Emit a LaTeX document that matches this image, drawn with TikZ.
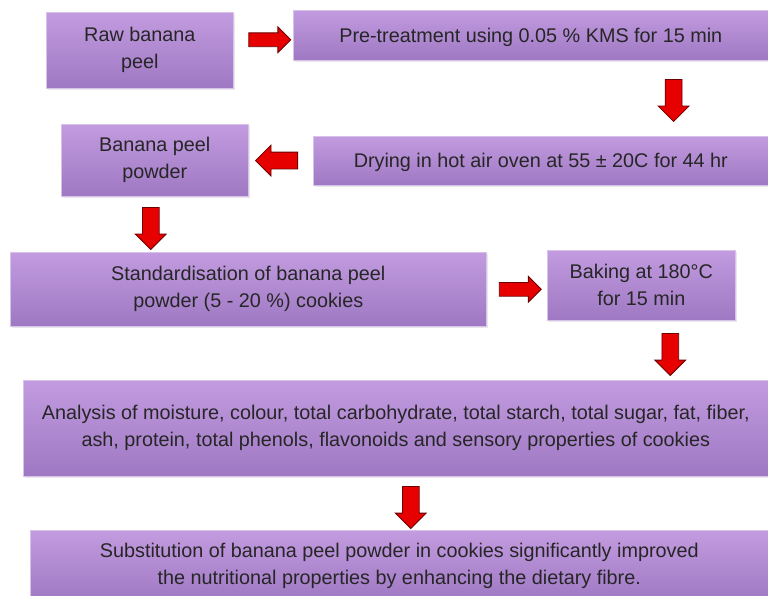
\documentclass[tikz,border=0pt]{standalone}
\usepackage{fontspec}
\setmainfont{Liberation Sans}
\usetikzlibrary{calc,shapes.arrows,shadows}

\definecolor{boxtop}{HTML}{C29BE0}
\definecolor{boxbot}{HTML}{9E78C2}
\definecolor{boxline}{HTML}{D8C2EC}
\definecolor{ink}{HTML}{262626}
\definecolor{arrowred}{HTML}{E60000}
\definecolor{arrowline}{HTML}{6B0000}

\tikzset{
  stepbox/.style={rectangle, anchor=north west, inner sep=0pt, align=center,
    top color=boxtop, bottom color=boxbot, draw=boxline, line width=.6pt,
    text=ink, font=\fontsize{19.8}{27}\selectfont,
    execute at begin node={\rule{0pt}{18pt}},
    drop shadow={opacity=.18, shadow xshift=1.5pt, shadow yshift=-2pt}},
  redarrow/.style={single arrow, draw=arrowline, fill=arrowred, line width=.8pt,
    inner sep=8pt, single arrow head extend=7pt, minimum height=42pt},
  smallarrow/.style={redarrow, inner sep=6.5pt, single arrow head extend=6pt},
}

\begin{document}
\begin{tikzpicture}[x=1pt,y=-1pt]
  \useasboundingbox (0,0) rectangle (768,596);

  % Boxes
  \node[stepbox, minimum width=187pt, minimum height=76pt] (raw) at (46,12) {Raw banana\\peel};
  \node[stepbox, minimum width=475pt, minimum height=50pt] (pre) at (293,10) {Pre-treatment using 0.05 \% KMS for 15 min};
  \node[stepbox, minimum width=455pt, minimum height=49pt] (dry) at (313,136) {Drying in hot air oven at 55 ± 20C for 44 hr};
  \node[stepbox, minimum width=187pt, minimum height=72pt] (pow) at (61,124) {Banana peel\\powder};
  \node[stepbox, minimum width=476pt, minimum height=74pt] (std) at (10,252) {Standardisation of banana peel\\powder (5 - 20 \%) cookies};
  \node[stepbox, minimum width=188pt, minimum height=70pt] (bake) at (547,250) {Baking at 180°C\\for 15 min};
  \node[stepbox, minimum width=745pt, minimum height=96pt] (ana) at (23,380) {Analysis of moisture, colour, total carbohydrate, total starch, total sugar, fat, fiber,\\ash, protein, total phenols, flavonoids and sensory properties of cookies};
  \node[stepbox, minimum width=738pt, minimum height=72pt] (sub) at (30,530) {Substitution of banana peel powder in cookies significantly improved\\the nutritional properties by enhancing the dietary fibre.};

  % Arrows
  \node[smallarrow] (a1) at ($(raw.east)!.5!(pre.west)+(3pt,3pt)$) {};
  \node[redarrow, shape border rotate=270] (a2) at ($(pre.south east)!.5!(dry.north east)+(-95pt,2pt)$) {};
  \node[redarrow, shape border rotate=180] (a3) at ($(pow.east)!.5!(dry.west)$) {};
  \node[redarrow, shape border rotate=270] (a4) at ($(pow.south)!.5!(pow.south|-std.north)+(-4pt,0)$) {};
  \node[smallarrow] (a5) at ($(std.east)!.5!(bake.west)+(0,-2pt)$) {};
  \node[redarrow, shape border rotate=270] (a6) at ($(bake.south)!.5!(bake.south|-ana.north)+(29pt,0)$) {};
  \node[redarrow, shape border rotate=270] (a7) at ($(ana.south)!.5!(ana.south|-sub.north)+(15pt,0)$) {};
\end{tikzpicture}
\end{document}
